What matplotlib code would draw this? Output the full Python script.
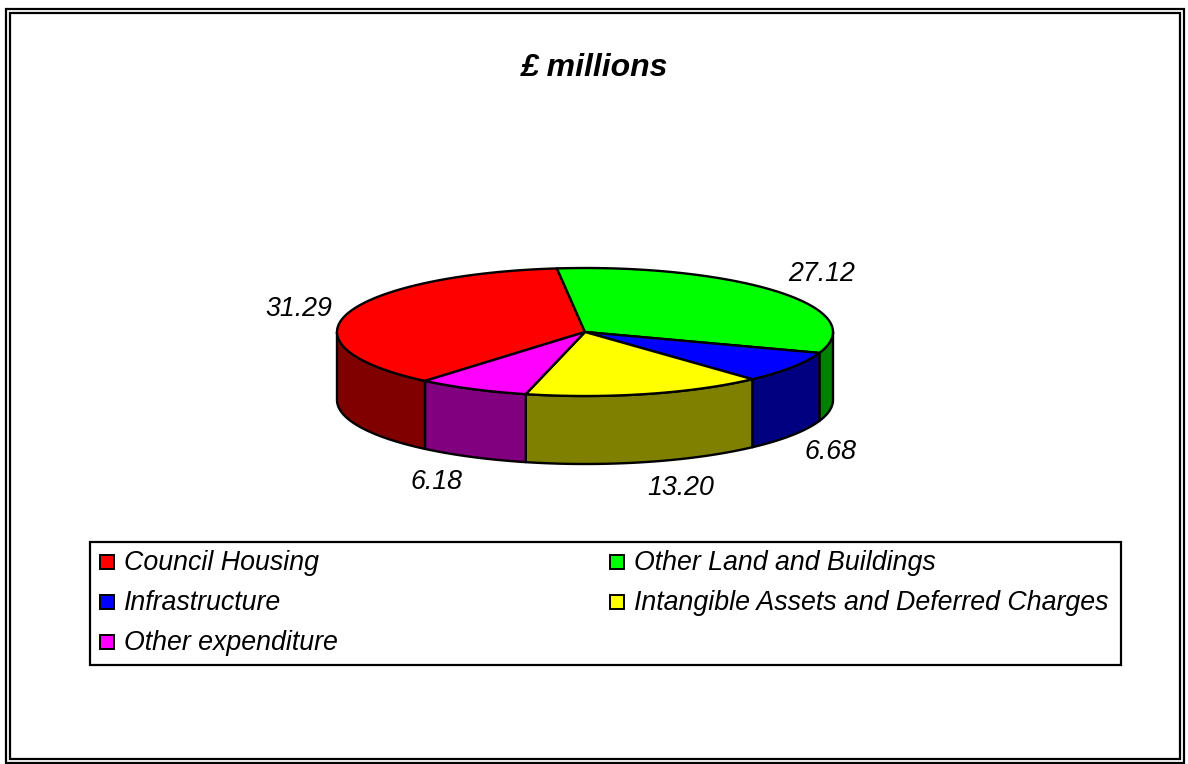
import numpy as np
import matplotlib
matplotlib.use("Agg")
import matplotlib.pyplot as plt
from matplotlib.patches import Polygon, Rectangle

# ---- data ----
categories = ["Council Housing", "Other Land and Buildings", "Infrastructure",
              "Intangible Assets and Deferred Charges", "Other expenditure"]
values = [31.29, 27.12, 6.68, 13.20, 6.18]
value_labels = ["31.29", "27.12", "6.68", "13.20", "6.18"]
top_colors = ["#FF0000", "#00FF00", "#0000FF", "#FFFF00", "#FF00FF"]
side_colors = ["#800000", "#008000", "#000080", "#808000", "#800080"]
title = "£ millions"

FONT = ["Liberation Sans", "DejaVu Sans"]
plt.rcParams['font.family'] = FONT

fig = plt.figure(figsize=(11.88, 7.64), dpi=100)
ax = fig.add_axes([0, 0, 1, 1])
ax.set_xlim(0, 1188)
ax.set_ylim(764, 0)
ax.axis('off')

# pie geometry (pixel-like coordinates, y downward)
cx, cy, rx, ry, depth = 585, 332, 248, 64, 68
start = 229.85
total = float(sum(values))
lw = 1.7
# small layout nudges for the value labels (best-fit placement)
label_nudge = [(1, 3), (2, -1), (-5, 2), (22, 0), (-12, 1)]


def arc(a0, a1, dy=0.0, n=200):
    t = np.radians(np.linspace(a0, a1, n))
    return np.column_stack([cx + rx * np.cos(t), cy - ry * np.sin(t) + dy])


spans = []
a = start
for v in values:
    a2 = a - v / total * 360.0
    spans.append((a2, a))
    a = a2

# side faces (front half only: 180..360 deg)
for (lo, hi), sc in zip(spans, side_colors):
    for k in range(-2, 2):
        s = max(lo, 180 + 360 * k)
        e = min(hi, 360 + 360 * k)
        if e > s:
            top = arc(s, e)
            bot = arc(e, s, dy=depth)
            poly = Polygon(np.vstack([top, bot]), closed=True, facecolor=sc,
                           edgecolor='black', linewidth=lw, joinstyle='round', zorder=2)
            ax.add_patch(poly)

# top faces
for (lo, hi), tc in zip(spans, top_colors):
    pts = np.vstack([[cx, cy], arc(lo, hi)])
    ax.add_patch(Polygon(pts, closed=True, facecolor=tc, edgecolor='black',
                         linewidth=lw, joinstyle='round', zorder=3))

# value labels
for (lo, hi), lab, (ndx, ndy) in zip(spans, value_labels, label_nudge):
    m = np.radians((lo + hi) / 2.0)
    x = cx + (rx + 52) * np.cos(m) + ndx
    y = cy - (ry + 27) * np.sin(m) + (depth if np.sin(m) < 0 else 0) + ndy
    ax.text(x, y, lab, ha='center', va='center', fontsize=19.3, style='italic',
            color='black', zorder=5)

# title
ax.text(594, 68, title, ha='center', va='center', fontsize=23,
        style='italic', fontweight='bold', color='black')

# legend
ax.add_patch(Rectangle((90, 542), 1031, 123, facecolor='white', edgecolor='black',
                       linewidth=1.6, zorder=4))
col_x = [100, 610]
for i, (name, col) in enumerate(zip(categories, top_colors)):
    c = i % 2
    r = i // 2
    x0 = col_x[c]
    yc = 562 + 40 * r
    ax.add_patch(Rectangle((x0, yc - 7), 14, 14, facecolor=col, edgecolor='black',
                           linewidth=1.4, zorder=5))
    ax.text(x0 + 24, yc + 1.5, name, ha='left', va='center', fontsize=19.3,
            style='italic', color='black', zorder=5)

# double frame
ax.add_patch(Rectangle((6, 9), 1178, 754, fill=False, edgecolor='black',
                       linewidth=1.6, zorder=6))
ax.add_patch(Rectangle((10, 13), 1170, 746, fill=False, edgecolor='black',
                       linewidth=1.6, zorder=6))

fig.savefig("out.png", dpi=100)
